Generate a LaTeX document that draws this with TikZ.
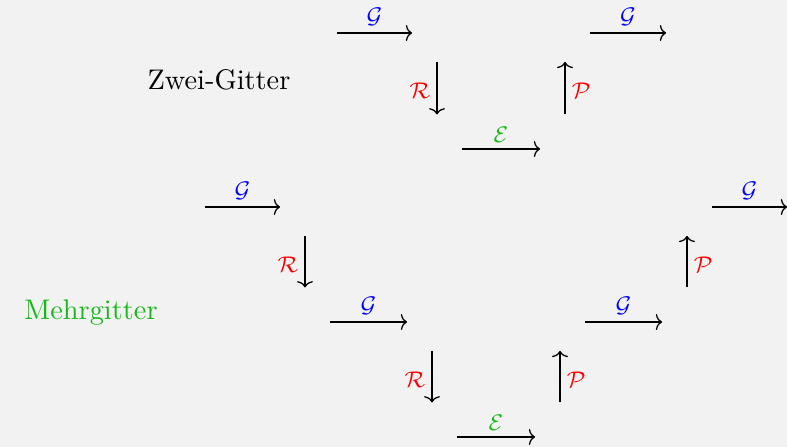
\documentclass[tikz,border=0pt]{standalone}
\usepackage{amsmath}
\usetikzlibrary{arrows.meta}

\definecolor{bgcol}{HTML}{F2F2F2}
\definecolor{mgreen}{rgb}{0.1,0.72,0.1}

\newcommand{\gaps}{
\def\hg{8.8pt}    % gap between cell and horizontal arrow
\def\vt{10.2pt}   % gap at the upper cell
\def\vb{12.2pt}   % gap at the lower cell
}
\newcommand{\px}{0.3528pt}

\tikzset{
  harr/.style={->,shorten <=\hg,shorten >=\hg},
  darr/.style={->,shorten <=\vt,shorten >=\vb},
  uarr/.style={->,shorten <=\vb,shorten >=\vt},
  lab/.style={midway,inner sep=2.2pt,font=\footnotesize}
}

\begin{document}
\begin{tikzpicture}[x=\px,y=-\px,>={Computer Modern Rightarrow[width=5.6pt,length=2.2pt]},line width=0.45pt]
  \gaps
  \useasboundingbox[fill=bgcol] (0,0) rectangle (787,447);
  % Zwei-Gitter
  \node (zg) at (219,80) {Zwei-Gitter};
  \coordinate (z11) at (312,33);
  \coordinate (z12) at (437,33);
  \coordinate (z13) at (565,33);
  \coordinate (z14) at (691,33);
  \coordinate (z22) at (437,149);
  \coordinate (z23) at (565,149);
  \draw[harr] (z11) -- (z12) node[lab,above,blue] {$\mathcal{G}$};
  \draw[darr] (z12) -- (z22) node[lab,left,red] {$\mathcal{R}$};
  \draw[harr] (z22) -- (z23) node[lab,above,mgreen] {$\mathcal{E}$};
  \draw[uarr] (z23) -- (z13) node[lab,right,red] {$\mathcal{P}$};
  \draw[harr] (z13) -- (z14) node[lab,above,blue] {$\mathcal{G}$};
  % Mehrgitter
  \node[mgreen] (mg) at (91,313) {Mehrgitter};
  \coordinate (m11) at (180,207);
  \coordinate (m12) at (305,207);
  \coordinate (m15) at (687,207);
  \coordinate (m16) at (812,207);
  \coordinate (m22) at (305,322);
  \coordinate (m23) at (432,322);
  \coordinate (m24) at (560,322);
  \coordinate (m25) at (687,322);
  \coordinate (m33) at (432,437);
  \coordinate (m34) at (560,437);
  \draw[harr] (m11) -- (m12) node[lab,above,blue] {$\mathcal{G}$};
  \draw[darr] (m12) -- (m22) node[lab,left,red] {$\mathcal{R}$};
  \draw[harr] (m22) -- (m23) node[lab,above,blue] {$\mathcal{G}$};
  \draw[darr] (m23) -- (m33) node[lab,left,red] {$\mathcal{R}$};
  \draw[harr] (m33) -- (m34) node[lab,above,mgreen] {$\mathcal{E}$};
  \draw[uarr] (m34) -- (m24) node[lab,right,red] {$\mathcal{P}$};
  \draw[harr] (m24) -- (m25) node[lab,above,blue] {$\mathcal{G}$};
  \draw[uarr] (m25) -- (m15) node[lab,right,red] {$\mathcal{P}$};
  \draw[harr] (m15) -- (m16) node[lab,above,blue] {$\mathcal{G}$};
\end{tikzpicture}
\end{document}
